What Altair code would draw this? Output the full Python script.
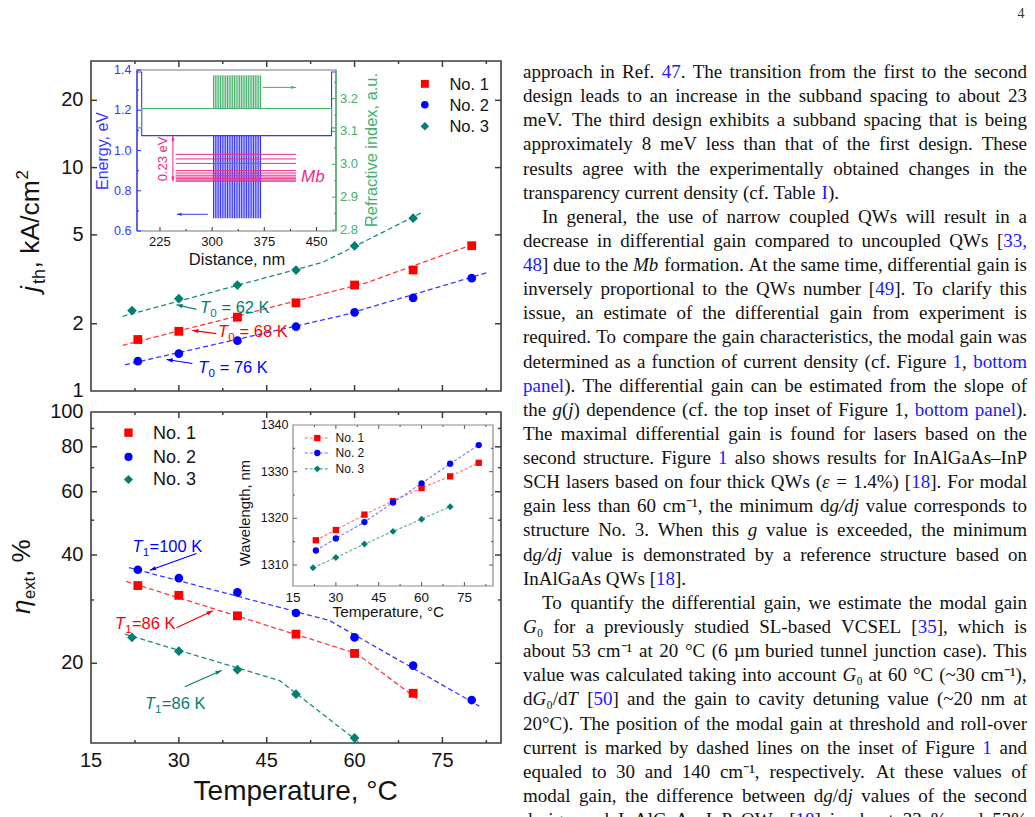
import math
import altair as alt
import pandas as pd

SANS = "Liberation Sans"
SERIF = "Liberation Serif"

RED, BLUE, TEAL = "#ff0000", "#0000ff", "#007f73"
RED_FIT, BLUE_FIT, TEAL_FIT = "#ff3a3a", "#3a3aff", "#1b8a7e"
RED_WL, BLUE_WL, TEAL_WL = "#ff7070", "#7070ff", "#55b08c"
BAND_BLUE, BAND_GREEN, PINK = "#3636ff", "#45b06b", "#ec2a8c"
INK, FRAME = "#141414", "#3c3c3c"
LINK = "#1a1aff"

# ---------------- threshold current density j_th (kA/cm^2) ----------------
T_J1 = [23, 30, 40, 50, 60, 70, 80]
T_J2 = [23, 30, 40, 50, 60, 70, 80]
T_J3 = [22, 30, 40, 50, 60, 70]
JTH_1 = [1.70, 1.85, 2.14, 2.48, 2.98, 3.48, 4.47]
JTH_2 = [1.36, 1.47, 1.68, 1.94, 2.25, 2.61, 3.20]
JTH_3 = [2.29, 2.59, 2.98, 3.48, 4.46, 5.94]

# dashed T0 fits: break points (temperature, j_th)
JFIT_T1, JFIT_V1 = [20.4, 62.0, 80.7], [1.60, 3.05, 4.58]
JFIT_T2, JFIT_V2 = [20.8, 58.0, 82.7], [1.31, 2.18, 3.39]
JFIT_T3, JFIT_V3 = [20.4, 54.6, 71.5], [2.16, 3.77, 6.29]

# ---------------- external efficiency eta_ext (%) ----------------
T_E1 = [23, 30, 40, 50, 60, 70]
T_E2 = [23, 30, 40, 50, 60, 70, 80]
T_E3 = [22, 30, 40, 50, 60]
ETA_1 = [32.9, 30.9, 27.1, 24.1, 21.3, 16.5]
ETA_2 = [36.4, 34.5, 31.5, 27.6, 23.6, 19.7, 15.8]
ETA_3 = [23.6, 21.6, 19.2, 16.4, 12.4]

# dashed T1 fits
EFIT_T1, EFIT_V1 = [21.0, 60.3, 71.2], [33.8, 21.3, 15.7]
EFIT_T2, EFIT_V2 = [21.5, 55.7, 81.3], [36.9, 26.3, 15.2]
EFIT_T3, EFIT_V3 = [20.8, 47.2, 60.6], [24.1, 17.9, 12.1]

# ---------------- lasing wavelength (nm) ----------------
T_W1 = [23, 30, 40, 50, 60, 70, 80]
T_W2 = [23, 30, 40, 50, 60, 70, 80]
T_W3 = [22, 30, 40, 50, 60, 70]
WL_1 = [1315.3, 1317.5, 1320.8, 1323.7, 1326.5, 1329.0, 1331.9]
WL_2 = [1313.1, 1315.7, 1319.2, 1323.4, 1327.5, 1331.7, 1335.7]
WL_3 = [1309.4, 1311.6, 1314.5, 1317.2, 1319.8, 1322.5]

# ---------------- band diagram of the active region ----------------
PROFILE_X = [192, 198.7, 198.7, 471.6, 471.6, 478]
PROFILE_E = [1.39, 1.39, 1.074, 1.074, 1.39, 1.39]
PROFILE_N = [3.111, 3.111, 3.170, 3.170, 3.111, 3.111]
WELL_X = [302.0, 304.5, 307.0, 309.5, 312.0, 314.5, 317.0, 319.5, 322.0, 324.5,
          327.0, 329.5, 332.0, 334.5, 337.0, 339.5, 342.0, 344.5, 347.0, 349.5,
          352.0, 354.5, 357.0, 359.5, 362.0, 364.5, 367.0, 369.5]
WELL_E = [1.074, 0.663]
WELL_N = [3.170, 3.271]
MINIBAND_E = [0.981, 0.958, 0.936, 0.900, 0.888, 0.877, 0.868, 0.860, 0.853, 0.847]
MINIBAND_X = [247.5, 420.6]

SERIES = ["No. 1", "No. 2", "No. 3"]

# body text of the page; {...} marks cross-references, *...* marks italics
BODY_LINES = [
    "approach in Ref. {47}. The transition from the first to the second",
    "design leads to an increase in the subband spacing to about 23",
    "meV. The third design exhibits a subband spacing that is being",
    "approximately 8 meV less than that of the first design. These",
    "results agree with the experimentally obtained changes in the",
    "transparency current density (cf. Table {I}).",
    "In general, the use of narrow coupled QWs will result in a",
    "decrease in differential gain compared to uncoupled QWs [{33,}",
    "{48}] due to the *Mb* formation. At the same time, differential gain is",
    "inversely proportional to the QWs number [{49}]. To clarify this",
    "issue, an estimate of the differential gain from experiment is",
    "required. To compare the gain characteristics, the modal gain was",
    "determined as a function of current density (cf. Figure {1}, {bottom}",
    "{panel}). The differential gain can be estimated from the slope of",
    "the *g*(*j*) dependence (cf. the top inset of Figure 1, {bottom} {panel}).",
    "The maximal differential gain is found for lasers based on the",
    "second structure. Figure {1} also shows results for InAlGaAs\u2013InP",
    "SCH lasers based on four thick QWs (*\u03b5* = 1.4%) [{18}]. For modal",
    "gain less than 60 cm\u207b\u00b9, the minimum d*g/dj* value corresponds to",
    "structure No. 3. When this *g* value is exceeded, the minimum",
    "d*g/dj* value is demonstrated by a reference structure based on",
    "InAlGaAs QWs [{18}].",
    "To quantify the differential gain, we estimate the modal gain",
    "*G*\u2080 for a previously studied SL-based VCSEL [{35}], which is",
    "about 53 cm\u207b\u00b9 at 20 \u00b0C (6 \u00b5m buried tunnel junction case). This",
    "value was calculated taking into account *G*\u2080 at 60 \u00b0C (~30 cm\u207b\u00b9),",
    "d*G*\u2080/d*T* [{50}] and the gain to cavity detuning value (~20 nm at",
    "20\u00b0C). The position of the modal gain at threshold and roll-over",
    "current is marked by dashed lines on the inset of Figure {1} and",
    "equaled to 30 and 140 cm\u207b\u00b9, respectively. At these values of",
    "modal gain, the difference between d*g*/d*j* values of the second",
    "design and InAlGaAs\u2013InP QWs [{18}] is about 33 % and 53%",
]
PARAGRAPH_STARTS = [6, 22]
PARAGRAPH_ENDS = [5, 21]

# ---------------- scale geometry (domain -> pixel range) ----------------
T_DOM, T_RNG = [15, 85], [91, 501]
JTH_DOM, JTH_RNG = [1, 30], [391, 61]
ETA_DOM, ETA_RNG = [12, 100], [743, 412]
DIST_DOM, DIST_RNG = [192, 478], [137, 336]
EN_DOM, EN_RNG = [0.6, 1.4], [231, 70]
RI_DOM, RI_RNG = [2.797, 3.287], [231, 70]
WT_DOM, WT_RNG = [15, 85], [293, 493]
WL_DOM, WL_RNG = [1305.5, 1340], [586, 425]
LINE_DOM, LINE_RNG = [0, 30], [72, 795.9]
PAGE_DOM = [0, 1035]


def lin(dom, rng):
    return alt.Scale(domain=dom, range=rng, nice=False, zero=False)


def logscale(dom, rng):
    return alt.Scale(type="log", domain=dom, range=rng, nice=False)


S_T = lin(T_DOM, T_RNG)
S_JTH = logscale(JTH_DOM, JTH_RNG)
S_ETA = logscale(ETA_DOM, ETA_RNG)
S_DIST = lin(DIST_DOM, DIST_RNG)
S_EN = lin(EN_DOM, EN_RNG)
S_RI = lin(RI_DOM, RI_RNG)
S_WT = lin(WT_DOM, WT_RNG)
S_WL = lin(WL_DOM, WL_RNG)
S_LINE = lin(LINE_DOM, LINE_RNG)
S_PAGE = lin(PAGE_DOM, PAGE_DOM)

ONE = pd.DataFrame({"k": [0]})
HEAD = "M0,0L0.34,1L-0.34,1Z"


def X(field, s):
    return alt.X(f"{field}:Q", scale=s, axis=None)


def Y(field, s):
    return alt.Y(f"{field}:Q", scale=s, axis=None)


def XD(v, s):
    return alt.XDatum(v, type="quantitative", scale=s, axis=None)


def YD(v, s):
    return alt.YDatum(v, type="quantitative", scale=s, axis=None)


def project(v, dom, rng, log=False):
    if log:
        f = (math.log10(v) - math.log10(dom[0])) / (math.log10(dom[1]) - math.log10(dom[0]))
    else:
        f = (v - dom[0]) / (dom[1] - dom[0])
    return rng[0] + f * (rng[1] - rng[0])


def frame(xs, ys, xd, yd, color=FRAME, width=1.6):
    return alt.Chart(ONE).mark_rect(fillOpacity=0, stroke=color, strokeWidth=width).encode(
        x=XD(xd[0], xs), x2=alt.X2Datum(xd[1]), y=YD(yd[0], ys), y2=alt.Y2Datum(yd[1]))


def ticks_x(values, xs, y0, y1, color=FRAME, width=1.5):
    return alt.Chart(pd.DataFrame({"v": values})).mark_rule(color=color, strokeWidth=width).encode(
        x=X("v", xs), y=alt.value(y0), y2=alt.value(y1))


def ticks_y(values, ys, x0, x1, color=FRAME, width=1.5):
    return alt.Chart(pd.DataFrame({"v": values})).mark_rule(color=color, strokeWidth=width).encode(
        y=Y("v", ys), x=alt.value(x0), x2=alt.value(x1))


def labels_x(values, texts, xs, y, size, color=INK):
    d = pd.DataFrame({"v": values, "s": texts})
    return alt.Chart(d).mark_text(font=SANS, fontSize=size, color=color, align="center",
                                  baseline="alphabetic").encode(x=X("v", xs), y=alt.value(y), text="s:N")


def labels_y(values, texts, ys, x, size, color=INK, align="right"):
    d = pd.DataFrame({"v": values, "s": texts})
    return alt.Chart(d).mark_text(font=SANS, fontSize=size, color=color, align=align,
                                  baseline="middle").encode(y=Y("v", ys), x=alt.value(x), text="s:N")


def label_at(text, x, y, size, color=INK, angle=0, align="center", baseline="alphabetic",
             style="normal", font=SANS):
    return alt.Chart(ONE).mark_text(text=text, font=font, fontSize=size, color=color, angle=angle,
                                    align=align, baseline=baseline, fontStyle=style).encode(
        x=alt.value(x), y=alt.value(y))


def series(ts, vs, xs, ys, color, shape, size):
    d = pd.DataFrame({"t": ts, "v": vs})
    return alt.Chart(d).mark_point(shape=shape, filled=True, size=size, color=color, opacity=1).encode(
        x=X("t", xs), y=Y("v", ys))


def dashed(ts, vs, xs, ys, color, dash=(5, 3), width=1.3):
    d = pd.DataFrame({"t": ts, "v": vs})
    return alt.Chart(d).mark_line(color=color, strokeDash=list(dash), strokeWidth=width).encode(
        x=X("t", xs), y=Y("v", ys))


def arrow(p0, p1, color, xs, ys, xgeo, ygeo, ylog=False, size=150, width=1.2):
    (x0, y0), (x1, y1) = p0, p1
    px0, px1 = project(x0, *xgeo), project(x1, *xgeo)
    py0, py1 = project(y0, *ygeo, ylog), project(y1, *ygeo, ylog)
    ang = math.degrees(math.atan2(px1 - px0, -(py1 - py0))) % 360
    d = pd.DataFrame({"x0": [x0], "y0": [y0], "x1": [x1], "y1": [y1]})
    shaft = alt.Chart(d).mark_rule(color=color, strokeWidth=width).encode(
        x=X("x0", xs), y=Y("y0", ys), x2=alt.X2("x1:Q"), y2=alt.Y2("y1:Q"))
    head = alt.Chart(d).mark_point(shape=HEAD, filled=True, size=size, color=color, opacity=1,
                                   angle=round(ang, 2), strokeWidth=0).encode(x=X("x1", xs), y=Y("y1", ys))
    return [shaft, head]


def sub_label(t, v, main, sub, rest, xs, ys, color, size=16.5, spaced=False):
    d = pd.DataFrame({"t": [t], "v": [v], "a": [main], "b": [sub], "c": [rest]})
    base = alt.Chart(d).encode(x=X("t", xs), y=Y("v", ys))
    w_main = size * 0.62
    sub_size = size * 0.7
    gap = size * 0.278 if spaced else 0
    return [
        base.mark_text(font=SANS, fontSize=size, fontStyle="italic", color=color, align="left",
                       baseline="alphabetic").encode(text="a:N"),
        base.mark_text(font=SANS, fontSize=sub_size, color=color, align="left", baseline="alphabetic",
                       dx=w_main, dy=4).encode(text="b:N"),
        base.mark_text(font=SANS, fontSize=size, color=color, align="left", baseline="alphabetic",
                       dx=w_main + sub_size * 0.58 + gap).encode(text="c:N"),
    ]


def legend(xm, xt, ys_vals, xs, ys, size, msize):
    layers = []
    for (yv, name, color, shape, ms) in zip(ys_vals, SERIES, [RED, BLUE, TEAL],
                                            ["square", "circle", "diamond"], msize):
        d = pd.DataFrame({"t": [xm], "tt": [xt], "v": [yv], "s": [name]})
        layers.append(alt.Chart(d).mark_point(shape=shape, filled=True, size=ms, color=color, opacity=1)
                      .encode(x=X("t", xs), y=Y("v", ys)))
        layers.append(alt.Chart(d).mark_text(font=SANS, fontSize=size, color=INK, align="left",
                                             baseline="middle", dy=1)
                      .encode(x=X("tt", xs), y=Y("v", ys), text="s:N"))
    return layers


T_MAJOR = [30, 45, 60, 75]
T_MINOR = [22.5, 37.5, 52.5, 67.5, 82.5]
T_LABELS = [15, 30, 45, 60, 75]

# ======================= top panel: j_th =======================
tg = (T_DOM, T_RNG)
jg = (JTH_DOM, JTH_RNG)
top = [
    frame(S_T, S_JTH, T_DOM, JTH_DOM),
    ticks_x(T_MAJOR, S_T, JTH_RNG[0], JTH_RNG[0] - 6),
    ticks_x(T_MINOR, S_T, JTH_RNG[0], JTH_RNG[0] - 3),
    ticks_x(T_MAJOR, S_T, JTH_RNG[1], JTH_RNG[1] + 6),
    ticks_x(T_MINOR, S_T, JTH_RNG[1], JTH_RNG[1] + 3),
    ticks_y([2, 5, 10, 20], S_JTH, T_RNG[0], T_RNG[0] + 6),
    ticks_y([2, 5, 10, 20], S_JTH, T_RNG[1], T_RNG[1] - 6),
    labels_y([1, 2, 5, 10, 20], ["1", "2", "5", "10", "20"], S_JTH, 83.5, 20),
    dashed(JFIT_T1, JFIT_V1, S_T, S_JTH, RED_FIT),
    dashed(JFIT_T2, JFIT_V2, S_T, S_JTH, BLUE_FIT),
    dashed(JFIT_T3, JFIT_V3, S_T, S_JTH, TEAL_FIT),
    series(T_J1, JTH_1, S_T, S_JTH, RED, "square", 78),
    series(T_J2, JTH_2, S_T, S_JTH, BLUE, "circle", 75),
    series(T_J3, JTH_3, S_T, S_JTH, TEAL, "diamond", 95),
]
top += sub_label(33.6, 2.226, "T", "0", "= 62 K", S_T, S_JTH, TEAL, spaced=True)
top += sub_label(36.7, 1.746, "T", "0", "= 68 K", S_T, S_JTH, RED, spaced=True)
top += sub_label(33.3, 1.199, "T", "0", "= 76 K", S_T, S_JTH, BLUE, spaced=True)
top += arrow((33.0, 2.319), (29.6, 2.433), TEAL, S_T, S_JTH, tg, jg, True)
top += arrow((36.4, 1.807), (32.3, 1.869), RED, S_T, S_JTH, tg, jg, True)
top += arrow((32.3, 1.328), (27.9, 1.384), BLUE, S_T, S_JTH, tg, jg, True)
top += legend(72.0, 76.2, [23.7, 19.1, 15.3], S_T, S_JTH, 16.5, [62, 58, 72])
top_group = alt.layer(*top)

# ======================= band-diagram inset =======================
en = [
    alt.Chart(ONE).mark_rect(fill="white", stroke="#7a7a7a", strokeWidth=1.1).encode(
        x=XD(DIST_DOM[0], S_DIST), x2=alt.X2Datum(DIST_DOM[1]),
        y=YD(EN_DOM[0], S_EN), y2=alt.Y2Datum(EN_DOM[1])),
    alt.Chart(ONE).mark_rule(color=BAND_BLUE, strokeWidth=1.3).encode(
        x=XD(DIST_DOM[0], S_DIST), y=YD(EN_DOM[0], S_EN), y2=alt.Y2Datum(EN_DOM[1])),
    ticks_y([0.6, 0.8, 1.0, 1.2, 1.4], S_EN, DIST_RNG[0], DIST_RNG[0] + 4, BAND_BLUE, 1.1),
    ticks_y([0.7, 0.9, 1.1, 1.3], S_EN, DIST_RNG[0], DIST_RNG[0] + 2, BAND_BLUE, 1.1),
    ticks_x([225, 300, 375, 450], S_DIST, EN_RNG[0], EN_RNG[0] - 4, "#444444", 1.1),
    ticks_x([262.5, 337.5, 412.5], S_DIST, EN_RNG[0], EN_RNG[0] - 2, "#444444", 1.1),
    labels_y([0.6, 0.8, 1.0, 1.2, 1.4], ["0.6", "0.8", "1.0", "1.2", "1.4"], S_EN, 131.5, 12.5, BAND_BLUE),
    labels_x([225, 300, 375, 450], ["225", "300", "375", "450"], S_DIST, 246, 13),
    alt.Chart(pd.DataFrame({"x": PROFILE_X, "e": PROFILE_E, "i": list(range(len(PROFILE_X)))}))
    .mark_line(color=BAND_BLUE, strokeWidth=1.1).encode(x=X("x", S_DIST), y=Y("e", S_EN), order="i:Q"),
    alt.Chart(pd.DataFrame({"x": WELL_X})).mark_rule(color=BAND_BLUE, strokeWidth=1.1).encode(
        x=X("x", S_DIST), y=YD(WELL_E[0], S_EN), y2=alt.Y2Datum(WELL_E[1])),
    alt.Chart(pd.DataFrame({"e": MINIBAND_E})).mark_rule(color=PINK, strokeWidth=1.0).encode(
        y=Y("e", S_EN), x=XD(MINIBAND_X[0], S_DIST), x2=alt.X2Datum(MINIBAND_X[1])),
    alt.Chart(pd.DataFrame({"x": [229.0], "e": [0.958]})).mark_text(
        text="0.23 eV", font=SANS, fontSize=13, color=PINK, angle=270, align="center",
        baseline="middle").encode(x=X("x", S_DIST), y=Y("e", S_EN)),
    alt.Chart(pd.DataFrame({"x": [444.7], "e": [0.870]})).mark_text(
        text="Mb", font=SANS, fontSize=17, fontStyle="italic", color=PINK, align="center",
        baseline="middle").encode(x=X("x", S_DIST), y=Y("e", S_EN)),
]
dg = (DIST_DOM, DIST_RNG)
eg = (EN_DOM, EN_RNG)
en += arrow((243.6, 0.96), (243.6, 1.072), PINK, S_DIST, S_EN, dg, eg, size=90, width=1.0)
en += arrow((243.6, 0.96), (243.6, 0.847), PINK, S_DIST, S_EN, dg, eg, size=90, width=1.0)
en += arrow((293.8, 0.683), (249.3, 0.683), BAND_BLUE, S_DIST, S_EN, dg, eg, size=90, width=1.0)
en_group = alt.layer(*en)

ri = [
    alt.Chart(ONE).mark_rule(color=BAND_GREEN, strokeWidth=1.3).encode(
        x=XD(DIST_DOM[1], S_DIST), y=YD(RI_DOM[0], S_RI), y2=alt.Y2Datum(RI_DOM[1])),
    ticks_y([2.8, 2.9, 3.0, 3.1, 3.2], S_RI, DIST_RNG[1], DIST_RNG[1] - 4, BAND_GREEN, 1.1),
    ticks_y([2.85, 2.95, 3.05, 3.15, 3.25], S_RI, DIST_RNG[1], DIST_RNG[1] - 2, BAND_GREEN, 1.1),
    labels_y([2.8, 2.9, 3.0, 3.1, 3.2], ["2.8", "2.9", "3.0", "3.1", "3.2"], S_RI, 340, 13,
             BAND_GREEN, align="left"),
    alt.Chart(pd.DataFrame({"x": PROFILE_X, "n": PROFILE_N, "i": list(range(len(PROFILE_X)))}))
    .mark_line(color=BAND_GREEN, strokeWidth=1.1).encode(x=X("x", S_DIST), y=Y("n", S_RI), order="i:Q"),
    alt.Chart(pd.DataFrame({"x": WELL_X})).mark_rule(color=BAND_GREEN, strokeWidth=1.1).encode(
        x=X("x", S_DIST), y=YD(WELL_N[0], S_RI), y2=alt.Y2Datum(WELL_N[1])),
]
ri += arrow((372.7, 3.234), (420.6, 3.234), BAND_GREEN, S_DIST, S_RI, dg, (RI_DOM, RI_RNG),
            size=90, width=1.0)
ri_group = alt.layer(*ri)

# ======================= bottom panel: eta_ext =======================
etg = (ETA_DOM, ETA_RNG)
bottom = [
    frame(S_T, S_ETA, T_DOM, ETA_DOM),
    ticks_x(T_MAJOR, S_T, ETA_RNG[0], ETA_RNG[0] - 6),
    ticks_x(T_MINOR, S_T, ETA_RNG[0], ETA_RNG[0] - 3),
    ticks_x(T_MAJOR, S_T, ETA_RNG[1], ETA_RNG[1] + 6),
    ticks_x(T_MINOR, S_T, ETA_RNG[1], ETA_RNG[1] + 3),
    ticks_y([20, 40, 60, 80], S_ETA, T_RNG[0], T_RNG[0] + 6),
    ticks_y([30, 50, 70, 90], S_ETA, T_RNG[0], T_RNG[0] + 3),
    ticks_y([20, 40, 60, 80], S_ETA, T_RNG[1], T_RNG[1] - 6),
    ticks_y([30, 50, 70, 90], S_ETA, T_RNG[1], T_RNG[1] - 3),
    labels_y([20, 40, 60, 80, 100], ["20", "40", "60", "80", "100"], S_ETA, 83.5, 20),
    labels_x(T_LABELS, [str(v) for v in T_LABELS], S_T, 766.5, 20),
    dashed(EFIT_T1, EFIT_V1, S_T, S_ETA, RED_FIT),
    dashed(EFIT_T2, EFIT_V2, S_T, S_ETA, BLUE_FIT),
    dashed(EFIT_T3, EFIT_V3, S_T, S_ETA, TEAL_FIT),
    series(T_E1, ETA_1, S_T, S_ETA, RED, "square", 78),
    series(T_E2, ETA_2, S_T, S_ETA, BLUE, "circle", 75),
    series(T_E3, ETA_3, S_T, S_ETA, TEAL, "diamond", 95),
]
bottom += sub_label(22.1, 40.8, "T", "1", "=100 K", S_T, S_ETA, BLUE)
bottom += sub_label(19.1, 24.9, "T", "1", "=86 K", S_T, S_ETA, RED)
bottom += sub_label(24.2, 14.9, "T", "1", "=86 K", S_T, S_ETA, TEAL)
bottom += arrow((33.0, 40.4), (25.05, 36.3), BLUE, S_T, S_ETA, tg, etg, True)
bottom += arrow((29.6, 25.1), (35.8, 28.0), RED, S_T, S_ETA, tg, etg, True)
bottom += arrow((31.0, 17.2), (37.3, 19.1), TEAL, S_T, S_ETA, tg, etg, True)
bottom += legend(21.4, 25.6, [87.6, 75.0, 64.9], S_T, S_ETA, 18, [70, 66, 82])
bottom_group = alt.layer(*bottom)

# ======================= wavelength inset =======================
WT_MAJOR = [30, 45, 60, 75]
WT_MINOR = [22.5, 37.5, 52.5, 67.5, 82.5]
wl = [
    alt.Chart(ONE).mark_rect(fill="white", stroke="#8a8a8a", strokeWidth=1.2).encode(
        x=XD(WT_DOM[0], S_WT), x2=alt.X2Datum(WT_DOM[1]),
        y=YD(WL_DOM[0], S_WL), y2=alt.Y2Datum(WL_DOM[1])),
    ticks_x(WT_MAJOR, S_WT, WL_RNG[0], WL_RNG[0] - 4, "#666666", 1.1),
    ticks_x(WT_MINOR, S_WT, WL_RNG[0], WL_RNG[0] - 2, "#666666", 1.1),
    ticks_x(WT_MAJOR, S_WT, WL_RNG[1], WL_RNG[1] + 4, "#666666", 1.1),
    ticks_x(WT_MINOR, S_WT, WL_RNG[1], WL_RNG[1] + 2, "#666666", 1.1),
    ticks_y([1310, 1320, 1330], S_WL, WT_RNG[0], WT_RNG[0] + 4, "#666666", 1.1),
    ticks_y([1315, 1325, 1335], S_WL, WT_RNG[0], WT_RNG[0] + 2, "#666666", 1.1),
    ticks_y([1310, 1320, 1330], S_WL, WT_RNG[1], WT_RNG[1] - 4, "#666666", 1.1),
    ticks_y([1315, 1325, 1335], S_WL, WT_RNG[1], WT_RNG[1] - 2, "#666666", 1.1),
    labels_x(T_LABELS, [str(v) for v in T_LABELS], S_WT, 602, 13.5),
    labels_y([1310, 1320, 1330, 1340], ["1310", "1320", "1330", "1340"], S_WL, 288.5, 12.5),
    dashed(T_W1, WL_1, S_WT, S_WL, RED_WL, (3, 2), 1.1),
    dashed(T_W2, WL_2, S_WT, S_WL, BLUE_WL, (3, 2), 1.1),
    dashed(T_W3, WL_3, S_WT, S_WL, TEAL_WL, (3, 2), 1.1),
    series(T_W1, WL_1, S_WT, S_WL, RED, "square", 40),
    series(T_W2, WL_2, S_WT, S_WL, BLUE, "circle", 40),
    series(T_W3, WL_3, S_WT, S_WL, TEAL, "diamond", 48),
]
for yv, name, col, lcol, shp, ms in zip([1337.2, 1334.0, 1330.6], SERIES, [RED, BLUE, TEAL],
                                        [RED_WL, BLUE_WL, TEAL_WL], ["square", "circle", "diamond"],
                                        [40, 40, 48]):
    d = pd.DataFrame({"a": [19.1], "b": [27.9], "m": [23.5], "tx": [29.9], "v": [yv], "s": [name]})
    wl.append(alt.Chart(d).mark_rule(color=lcol, strokeDash=[3, 2], strokeWidth=1.1).encode(
        x=X("a", S_WT), x2=alt.X2("b:Q"), y=Y("v", S_WL)))
    wl.append(alt.Chart(d).mark_point(shape=shp, filled=True, size=ms, color=col, opacity=1).encode(
        x=X("m", S_WT), y=Y("v", S_WL)))
    wl.append(alt.Chart(d).mark_text(font=SANS, fontSize=12, color=INK, align="left", baseline="middle")
              .encode(x=X("tx", S_WT), y=Y("v", S_WL), text="s:N"))
wl_group = alt.layer(*wl)

# ======================= titles =======================
titles = alt.layer(
    # top panel y title: j_th, kA/cm^2
    label_at("j", 38.5, 292, 26.5, angle=270, align="left", style="italic"),
    label_at("th", 44.5, 284, 18, angle=270, align="left"),
    label_at(", kA/cm", 38.5, 268.5, 26.5, angle=270, align="left"),
    label_at("2", 27.5, 179.5, 17, angle=270, align="left"),
    # bottom panel y title: eta_ext, %
    label_at("\u03b7", 30, 614, 26, angle=270, align="left", style="italic"),
    label_at("ext", 35, 599, 16.5, angle=270, align="left"),
    label_at(", %", 30, 577, 26, angle=270, align="left"),
    label_at("Temperature, \u00b0C", 295.7, 800, 28),
    # band inset titles
    label_at("Energy, eV", 108, 151, 16, BAND_BLUE, angle=270),
    label_at("Refractive index, a.u.", 377, 150, 16.4, BAND_GREEN, angle=270),
    label_at("Distance, nm", 237, 265, 16.5),
    # wavelength inset titles
    label_at("Wavelength, nm", 250, 513, 14.8, angle=270),
    label_at("Temperature, \u00b0C", 388.3, 617, 15.3),
    # page number
    label_at("4", 1021, 18, 14, "#333333", font=SERIF),
)

# ======================= justified body text =======================
# advance widths of the Times/Liberation Serif face, in 1/1000 em
TIMES_W = {
    " ": 250, "!": 333, "%": 833, "(": 333, ")": 333, ",": 250, "-": 333, ".": 250, "/": 278,
    ":": 278, ";": 278, "=": 564, "[": 333, "]": 333, "~": 541, "\u2013": 500, "\u03b5": 440,
    "\u207b": 333, "\u00b9": 300, "\u00b0": 400, "\u00b5": 500, "\u2080": 333,
    "A": 722, "B": 667, "C": 667, "D": 722, "E": 611, "F": 556, "G": 722, "H": 722, "I": 333,
    "J": 389, "K": 722, "L": 611, "M": 889, "N": 722, "O": 722, "P": 556, "Q": 722, "R": 667,
    "S": 556, "T": 611, "U": 722, "V": 722, "W": 944, "X": 722, "Y": 722, "Z": 611,
    "a": 444, "b": 500, "c": 444, "d": 500, "e": 444, "f": 333, "g": 500, "h": 500, "i": 278,
    "j": 278, "k": 500, "l": 278, "m": 778, "n": 500, "o": 500, "p": 500, "q": 500, "r": 333,
    "s": 389, "t": 278, "u": 500, "v": 500, "w": 722, "x": 500, "y": 500, "z": 444,
}
BODY_SIZE = 19
BODY_LEFT, BODY_RIGHT, BODY_INDENT = 523, 1027, 19


def text_width(s):
    return sum(TIMES_W.get(c, 500) for c in s) * BODY_SIZE / 1000.0


def split_words(line):
    words, cur = [[]], [""]
    state = {"blue": False, "italic": False}

    def flush():
        if cur[0]:
            words[-1].append((cur[0], state["blue"], state["italic"]))
            cur[0] = ""

    for ch in line:
        if ch == "{":
            flush(); state["blue"] = True
        elif ch == "}":
            flush(); state["blue"] = False
        elif ch == "*":
            flush(); state["italic"] = not state["italic"]
        elif ch == " ":
            flush(); words.append([])
        else:
            cur[0] += ch
    flush()
    return [w for w in words if w]


rows = []
for i, line in enumerate(BODY_LINES):
    words = split_words(line)
    left = BODY_LEFT + (BODY_INDENT if i in PARAGRAPH_STARTS else 0)
    widths = [sum(text_width(seg[0]) for seg in w) for w in words]
    if i in PARAGRAPH_ENDS or len(words) < 2:
        gap = 0.25 * BODY_SIZE
    else:
        gap = (BODY_RIGHT - left - sum(widths)) / (len(words) - 1)
    x = left
    for w, wd in zip(words, widths):
        sx = x
        for s, is_blue, is_italic in w:
            rows.append({"line": i, "x": sx, "s": s, "blue": is_blue, "italic": is_italic})
            sx += text_width(s)
        x += wd + gap
segments = pd.DataFrame(rows)

body_layers = []
for is_blue in (False, True):
    for is_italic in (False, True):
        part = segments[(segments.blue == is_blue) & (segments.italic == is_italic)]
        if part.empty:
            continue
        body_layers.append(
            alt.Chart(part[["line", "x", "s"]]).mark_text(
                font=SERIF, fontSize=BODY_SIZE, color=LINK if is_blue else "#111111",
                fontStyle="italic" if is_italic else "normal", align="left", baseline="middle"
            ).encode(x=X("x", S_PAGE), y=Y("line", S_LINE), text="s:N"))
text_group = alt.layer(*body_layers)

chart = alt.layer(
    top_group, bottom_group, en_group, ri_group, wl_group, titles, text_group
).resolve_scale(
    x="independent", y="independent"
).properties(
    width=1035, height=817, padding=0, autosize=alt.AutoSizeParams(type="none")
).configure_view(strokeWidth=0)

chart.save("out.html", embed_options={"renderer": "svg", "actions": False})
